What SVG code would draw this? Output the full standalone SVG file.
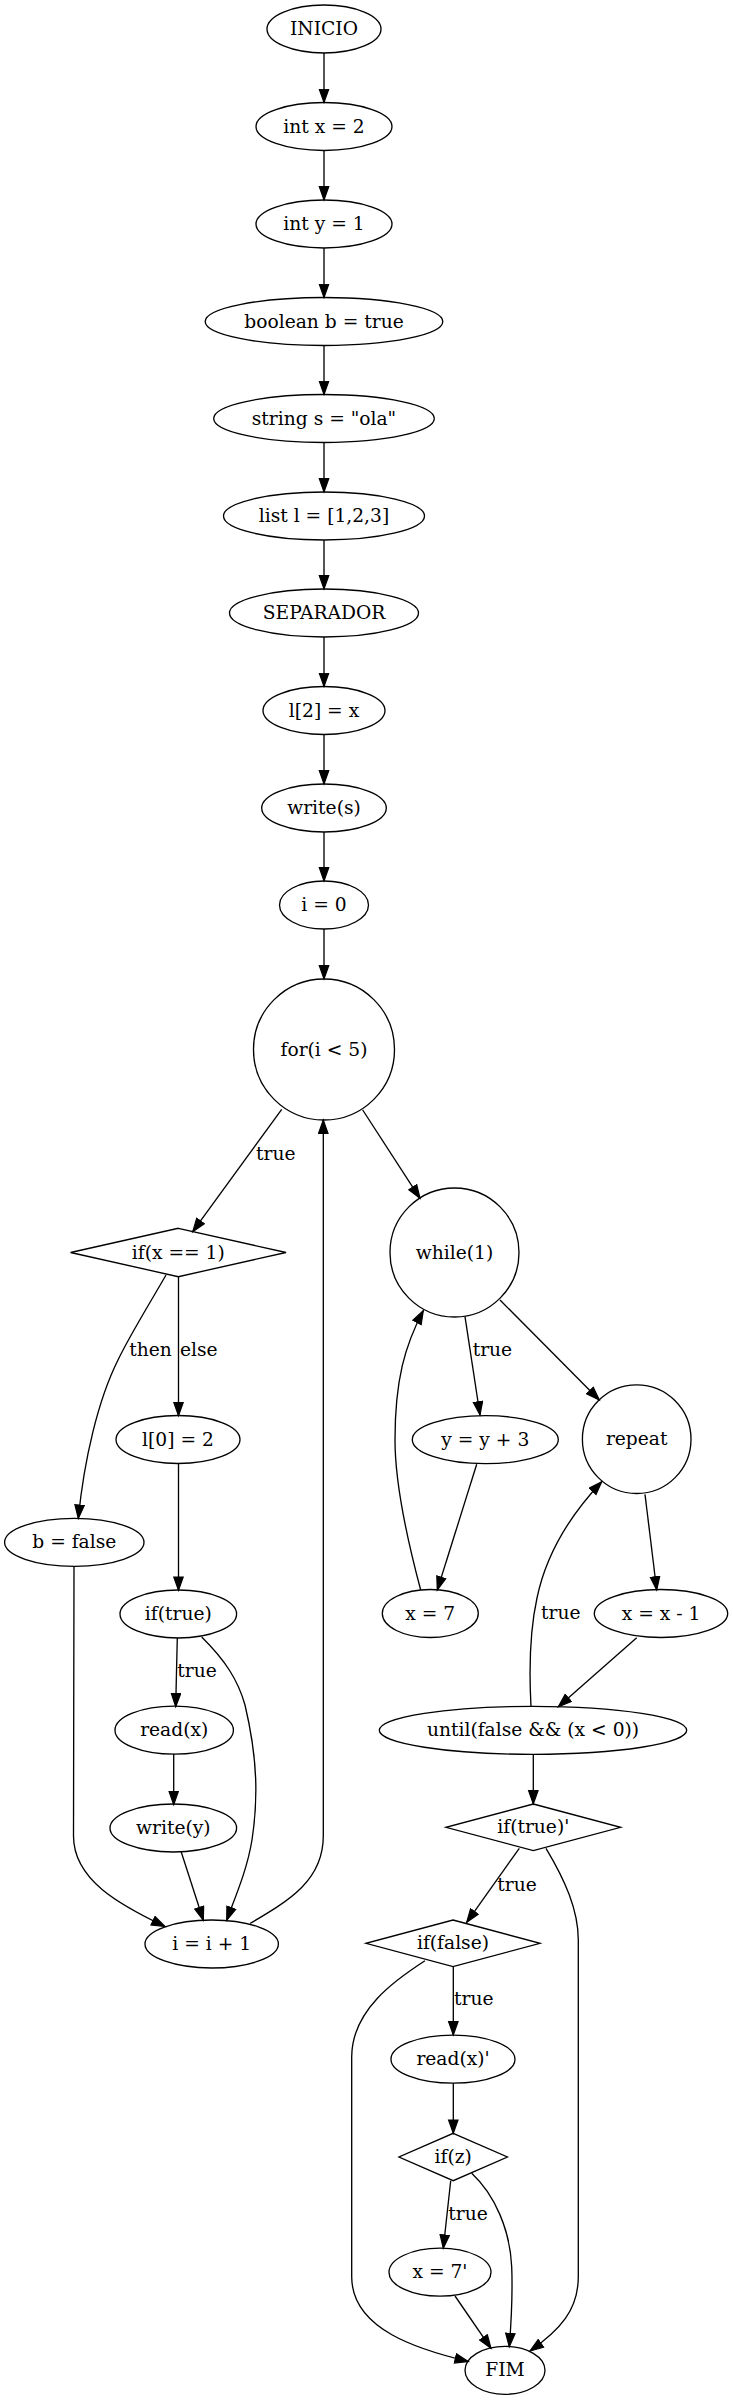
<svg xmlns="http://www.w3.org/2000/svg" width="733" height="2400" viewBox="0 0 733 2400">
<style>
.n ellipse,.n circle,.n polygon{fill:none;stroke:#000;stroke-width:1.33}
text{font-family:"DejaVu Serif","Liberation Serif",serif;font-size:18.67px;fill:#000}
.n text{text-anchor:middle}
.e path{fill:none;stroke:#000;stroke-width:1.33;marker-end:url(#ah)}
</style>
<defs>
<marker id="ah" markerUnits="userSpaceOnUse" markerWidth="16" markerHeight="12" refX="14" refY="5.5" orient="auto" viewBox="0 0 16 12">
<path d="M0.7,0.8 L14,5.5 L0.7,10.2 Z" fill="#000" stroke="#000" stroke-width="1.2"/>
</marker>
</defs>
<rect width="733" height="2400" fill="#fff"/>
<g id="edges" class="e">
<path d="M324,53 L324,102.5"/>
<path d="M324,150.5 L324,200"/>
<path d="M324,248 L324,297.5"/>
<path d="M324,345.5 L324,394.5"/>
<path d="M324,442.5 L324,492"/>
<path d="M324,540 L324,589"/>
<path d="M324,637 L324,686.5"/>
<path d="M324,734.5 L324,784"/>
<path d="M324,832 L324,881"/>
<path d="M324,929 L324,979"/>
<path d="M281.7,1109.3 L192.7,1231.7"/>
<path d="M362.7,1110 L420,1198.3"/>
<path d="M166,1275 C150,1303 130,1335 118,1360 C98,1400 84,1460 78.3,1518.4"/>
<path d="M178.5,1276.7 L178.5,1415.8"/>
<path d="M178.5,1463.3 L178.5,1590.3"/>
<path d="M177.3,1637.8 L175.7,1706.7"/>
<path d="M201.7,1637 C225,1660 238,1680 245,1705 C258,1760 258,1800 252,1840 C247,1870 236,1895 226.7,1920.2"/>
<path d="M173.7,1753.7 L173.7,1804.6"/>
<path d="M181,1851.3 L203.3,1920.2"/>
<path d="M74,1566 L73.5,1836 C73.5,1880 120,1905 165,1926.5"/>
<path d="M250,1923.5 C290,1900 323.3,1880 323.3,1836 L323.3,1120"/>
<path d="M465,1316.7 L480,1415"/>
<path d="M500,1300 L599.3,1400"/>
<path d="M476.7,1464.3 L437.3,1590"/>
<path d="M420.7,1590 C410,1550 395,1490 395,1440 C395,1380 405,1345 423.3,1310.7"/>
<path d="M645,1494.3 L656.7,1590"/>
<path d="M636.7,1637.7 L558.3,1706.7"/>
<path d="M531,1706.7 C529,1670 530,1630 537,1598 C547,1550 575,1510 601.7,1481.7"/>
<path d="M533.3,1754 L533.3,1804"/>
<path d="M519.3,1848.3 L466.7,1922.3"/>
<path d="M546,1848.3 C565,1880 578.3,1910 578.3,1940 L578.3,2276.7 C578.3,2310 560,2330 530,2351"/>
<path d="M425,1960.7 C395,1980 352,2010 351.7,2056.7 L351.7,2276.7 C351.7,2330 420,2350 468.3,2361.5"/>
<path d="M453.3,1966.7 L453.3,2035"/>
<path d="M453.3,2083.3 L453.3,2133.3"/>
<path d="M450.7,2180.7 L443.3,2248.3"/>
<path d="M471.7,2173.3 C495,2195 510,2230 511.7,2266.7 C513,2300 511,2325 509.3,2346.7"/>
<path d="M455,2296 L491,2348.3"/>
<text x="256" y="1160">true</text>
<text x="129.3" y="1356">then</text>
<text x="180" y="1356">else</text>
<text x="177.3" y="1677">true</text>
<text x="472.7" y="1355.5">true</text>
<text x="541" y="1618.5">true</text>
<text x="497.3" y="1890.5">true</text>
<text x="454" y="2004.5">true</text>
<text x="448.3" y="2219.5">true</text>
</g>
<g id="INICIO" class="n"><ellipse cx="324" cy="29" rx="57" ry="24"/><text x="324" y="35">INICIO</text></g>
<g id="int_x" class="n"><ellipse cx="324" cy="126.5" rx="68" ry="24"/><text x="324" y="132.5">int x = 2</text></g>
<g id="int_y" class="n"><ellipse cx="324" cy="224" rx="68" ry="24"/><text x="324" y="230">int y = 1</text></g>
<g id="boolean_b" class="n"><ellipse cx="324" cy="321.5" rx="118.8" ry="24"/><text x="324" y="327.5">boolean b = true</text></g>
<g id="string_s" class="n"><ellipse cx="324" cy="418.5" rx="110.3" ry="24"/><text x="324" y="424.5">string s = "ola"</text></g>
<g id="list_l" class="n"><ellipse cx="324" cy="516" rx="100.5" ry="24"/><text x="324" y="522">list l = [1,2,3]</text></g>
<g id="SEPARADOR" class="n"><ellipse cx="324" cy="613" rx="94.5" ry="24"/><text x="324" y="619">SEPARADOR</text></g>
<g id="l2" class="n"><ellipse cx="324" cy="710.5" rx="61" ry="24"/><text x="324" y="716.5">l[2] = x</text></g>
<g id="write_s" class="n"><ellipse cx="324" cy="808" rx="62.3" ry="24"/><text x="324" y="814">write(s)</text></g>
<g id="i0" class="n"><ellipse cx="324" cy="905" rx="44.5" ry="24"/><text x="324" y="911">i = 0</text></g>
<g id="for" class="n"><circle cx="324" cy="1049.5" r="70.5"/><text x="324" y="1055.5">for(i &lt; 5)</text></g>
<g id="if_x1" class="n"><polygon points="178.3,1228.3 286,1252.5 178.3,1276.7 70.6,1252.5"/><text x="178.3" y="1258.5">if(x == 1)</text></g>
<g id="while" class="n"><circle cx="454.5" cy="1252.5" r="64.5"/><text x="454.5" y="1258.5">while(1)</text></g>
<g id="l0" class="n"><ellipse cx="178" cy="1439.5" rx="62" ry="24"/><text x="178" y="1445.5">l[0] = 2</text></g>
<g id="b_false" class="n"><ellipse cx="74.3" cy="1542.3" rx="69.7" ry="24"/><text x="74.3" y="1548.3">b = false</text></g>
<g id="if_true" class="n"><ellipse cx="178.3" cy="1614" rx="58.3" ry="24"/><text x="178.3" y="1620">if(true)</text></g>
<g id="read_x" class="n"><ellipse cx="174.2" cy="1730.2" rx="59.2" ry="24"/><text x="174.2" y="1736.2">read(x)</text></g>
<g id="write_y" class="n"><ellipse cx="173.3" cy="1828" rx="63.3" ry="24"/><text x="173.3" y="1834">write(y)</text></g>
<g id="i_inc" class="n"><ellipse cx="211.7" cy="1944" rx="66.7" ry="24"/><text x="211.7" y="1950">i = i + 1</text></g>
<g id="y_y3" class="n"><ellipse cx="485.3" cy="1439.7" rx="73" ry="24"/><text x="485.3" y="1445.7">y = y + 3</text></g>
<g id="repeat" class="n"><circle cx="636.7" cy="1439.2" r="54.3"/><text x="636.7" y="1445.2">repeat</text></g>
<g id="x7" class="n"><ellipse cx="430.3" cy="1613.5" rx="48" ry="24"/><text x="430.3" y="1619.5">x = 7</text></g>
<g id="x_dec" class="n"><ellipse cx="661" cy="1613.5" rx="66.7" ry="24"/><text x="661" y="1619.5">x = x - 1</text></g>
<g id="until" class="n"><ellipse cx="533" cy="1730.3" rx="153.7" ry="24"/><text x="533" y="1736.3">until(false &amp;&amp; (x &lt; 0))</text></g>
<g id="if_true2" class="n"><polygon points="533.3,1804 620.6,1827.3 533.3,1850.6 446,1827.3"/><text x="533.3" y="1833.3">if(true)'</text></g>
<g id="if_false" class="n"><polygon points="453,1920 540,1943.3 453,1966.6 366,1943.3"/><text x="453" y="1949.3">if(false)</text></g>
<g id="read_x2" class="n"><ellipse cx="453" cy="2059.2" rx="62" ry="24"/><text x="453" y="2065.2">read(x)'</text></g>
<g id="if_z" class="n"><polygon points="453.2,2133.3 507.4,2157 453.2,2180.7 399,2157"/><text x="453.2" y="2163">if(z)</text></g>
<g id="x7b" class="n"><ellipse cx="440" cy="2272.2" rx="51" ry="24"/><text x="440" y="2278.2">x = 7'</text></g>
<g id="FIM" class="n"><ellipse cx="505" cy="2370.3" rx="40" ry="24"/><text x="505" y="2376.3">FIM</text></g>
</svg>
